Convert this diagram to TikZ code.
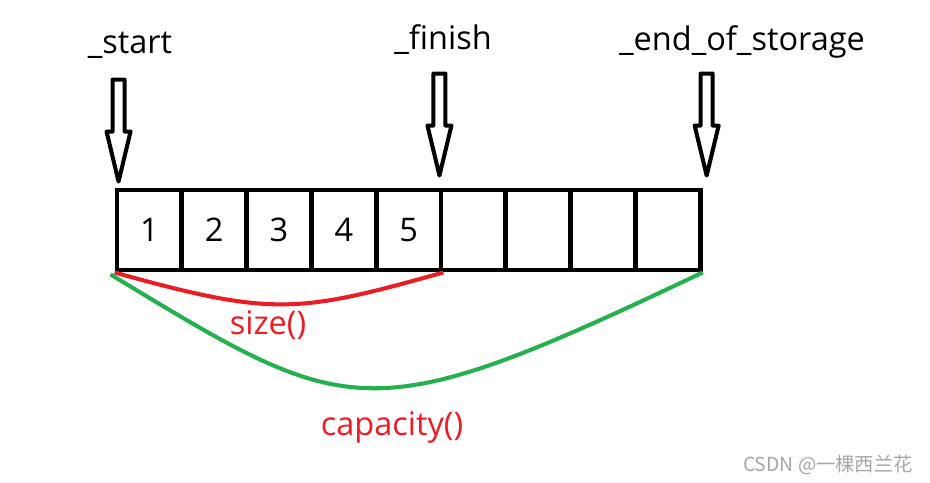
\documentclass[tikz,border=0pt]{standalone}
\usepackage{fontspec}
\setmainfont{Open Sans}
\newfontfamily\cjk{Noto Sans CJK SC}
\usepackage{xcolor}
\usetikzlibrary{positioning,calc}
\definecolor{paintred}{RGB}{237,28,36}
\definecolor{paintgreen}{RGB}{34,177,76}

\begin{document}
\begin{tikzpicture}[x=0.02cm,y=-0.02cm,
    cell/.style={rectangle,draw,line width=2.8pt,minimum width=1.296cm,
      minimum height=1.6cm,inner sep=0pt,font=\fontsize{18.5}{22}\selectfont},
    tag/.style={font=\fontsize{18.5}{22}\selectfont},
    curve/.style={line width=2.3pt},
    hollow/.pic={\draw[line width=2.3pt,line join=round]
      (0,0) -- (-12,-50) -- (-6,-50) -- (-6,-102) -- (6,-102)
      -- (6,-50) -- (12,-50) -- cycle;}]
    \useasboundingbox (0,0) rectangle (930,483);

    % the nine slots
    \foreach \i/\v in {1/1,2/2,3/3,4/4,5/5,6/{},7/{},8/{},9/{}}
      \node[cell] (c\i) at ({117+64.8*(\i-0.5)},230) {\v};

    % pointer names
    \node[tag] (start) at (130,45) {\_start};
    \node[tag] (finish) at (443,40) {\_finish};
    \node[tag] (eos) at (742,42) {\_end\_of\_storage};

    \coordinate (tip1) at ($(c1.north west)+(4,-6)$);
    \coordinate (tip2) at ($(c5.north east)+(-4,-12)$);
    \coordinate (tip3) at ($(c9.north east)+(4,-12)$);
    \pic at (tip1) {hollow};
    \pic at (tip2) {hollow};
    \pic at (tip3) {hollow};

    % size and capacity
    \draw[curve,paintred] (c1.south west) .. controls (274,317) and (298,313) .. (c5.south east);
    \draw[curve,paintgreen] ($(c1.south west)+(-4,2)$) .. controls (351,420) and (365,433) .. (c9.south east);
    \node[tag,text=paintred] (size) at (268,325) {size()};
    \node[tag,text=paintred] (cap) at (392,427) {capacity()};

    \node[text=gray!70,font=\cjk\fontsize{11}{13}\selectfont] (mark) at (828,465) {CSDN @一棵西兰花};
\end{tikzpicture}
\end{document}
